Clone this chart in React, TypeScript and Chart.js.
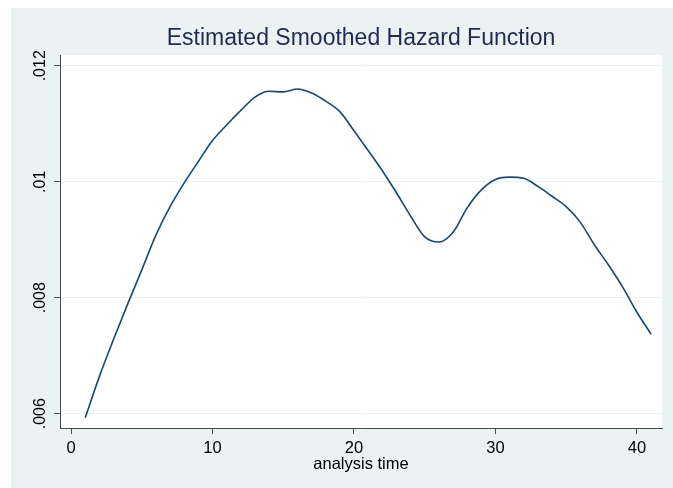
import React, { useEffect, useRef } from "react";
import { Chart, registerables } from "chart.js";

Chart.register(...registerables);

// ---- data ----
const times = [
  1, 2, 3, 4, 5, 6, 7, 8, 9, 10,
  11, 12, 13, 14, 15, 16, 17, 18, 19, 20,
  21, 22, 23, 24, 25, 26, 27, 28, 29, 30,
  31, 32, 33, 34, 35, 36, 37, 38, 39, 40, 41,
];
const hazard = [
  0.00593, 0.00664, 0.00728, 0.00789, 0.00848, 0.00908, 0.00957, 0.00998, 0.01035, 0.01071,
  0.01098, 0.01123, 0.01146, 0.01156, 0.01155, 0.0116, 0.01153, 0.01139, 0.01121, 0.01088,
  0.01054, 0.01019, 0.00981, 0.00941, 0.00905, 0.00896, 0.00913, 0.00955, 0.00986, 0.01004,
  0.01008, 0.01006, 0.00992, 0.00975, 0.00957, 0.0093, 0.00891, 0.00856, 0.00818, 0.00775, 0.00737,
];
const xTickValues = [0, 10, 20, 30, 40];
const xTickLabels = ["0", "10", "20", "30", "40"];
const yTickValues = [0.006, 0.008, 0.01, 0.012];
const yTickLabels = [".006", ".008", ".01", ".012"];
const chartTitle = "Estimated Smoothed Hazard Function";
const xAxisTitle = "analysis time";
const xRange = [-0.78, 41.77];
const yRange = [0.005754, 0.012184];

const FONT = "'Liberation Sans', Arial, sans-serif";
const BG = "#EAF2F3";
const AXIS = "#4a4a4a";

const backgroundPlugin = {
  id: "stataBackground",
  beforeDraw(chart: any) {
    const { ctx, width, height, chartArea } = chart;
    const pad = chart.options.layout.padding;
    ctx.save();
    ctx.fillStyle = "#ffffff";
    ctx.fillRect(0, 0, width, height);
    ctx.fillStyle = BG;
    ctx.fillRect(pad.left, pad.top, width - pad.left, height - pad.top);
    ctx.fillStyle = "#ffffff";
    ctx.fillRect(
      chartArea.left,
      chartArea.top,
      chartArea.right - chartArea.left,
      chartArea.bottom - chartArea.top
    );
    ctx.restore();
  },
};

export default function App() {
  const canvasRef = useRef<HTMLCanvasElement | null>(null);

  useEffect(() => {
    const canvas = canvasRef.current;
    if (!canvas) return;
    const points = times.map((t, i) => ({ x: t, y: hazard[i] }));
    const chart = new Chart(canvas, {
      type: "line",
      data: {
        datasets: [
          {
            data: points,
            borderColor: "#1A476F",
            borderWidth: 1.6,
            pointRadius: 0,
            fill: false,
            cubicInterpolationMode: "monotone",
          },
        ],
      },
      options: {
        responsive: false,
        animation: false,
        events: [],
        layout: { padding: { left: 11, top: 8, right: 11, bottom: 0 } },
        plugins: {
          legend: { display: false },
          tooltip: { enabled: false },
          title: {
            display: true,
            text: chartTitle,
            color: "#1E2C52",
            fullSize: false,
            font: { family: FONT, size: 23, weight: "normal", lineHeight: 1.2 },
            padding: { top: 17, bottom: 2.5 },
          },
        },
        scales: {
          x: {
            type: "linear",
            min: xRange[0],
            max: xRange[1],
            afterBuildTicks: (s: any) => {
              s.ticks = xTickValues.map((v) => ({ value: v }));
            },
            afterFit: (s: any) => {
              s.height = 60;
            },
            border: { display: true, color: AXIS, width: 1 },
            grid: {
              display: true,
              drawOnChartArea: false,
              drawTicks: true,
              tickLength: 6,
              tickColor: AXIS,
            },
            ticks: {
              color: "#000",
              padding: 5,
              maxRotation: 0,
              minRotation: 0,
              font: { family: FONT, size: 16.5 },
              callback: (v: any) => {
                const i = xTickValues.indexOf(Number(v));
                return i >= 0 ? xTickLabels[i] : "";
              },
            },
            title: {
              display: true,
              text: xAxisTitle,
              color: "#000",
              font: { family: FONT, size: 16.5 },
              padding: { top: 0, bottom: 13.5 },
            },
          },
          y: {
            type: "linear",
            min: yRange[0],
            max: yRange[1],
            afterBuildTicks: (s: any) => {
              s.ticks = yTickValues.map((v) => ({ value: v }));
            },
            afterFit: (s: any) => {
              s.width = 49;
            },
            border: { display: true, color: AXIS, width: 1 },
            grid: {
              display: true,
              color: BG,
              lineWidth: 1,
              drawTicks: true,
              tickLength: 6,
              tickColor: AXIS,
            },
            ticks: {
              color: "#000",
              padding: -2,
              minRotation: 90,
              maxRotation: 90,
              crossAlign: "center",
              font: { family: FONT, size: 16 },
              callback: (v: any) => {
                const i = yTickValues.indexOf(Number(v));
                return i >= 0 ? yTickLabels[i] : "";
              },
            },
          },
        },
      },
      plugins: [backgroundPlugin],
    } as any);
    return () => chart.destroy();
  }, []);

  return (
    <div style={{ position: "fixed", left: 0, top: 0, width: 673, height: 488 }}>
      <canvas ref={canvasRef} width={673} height={488} style={{ display: "block" }} />
    </div>
  );
}
